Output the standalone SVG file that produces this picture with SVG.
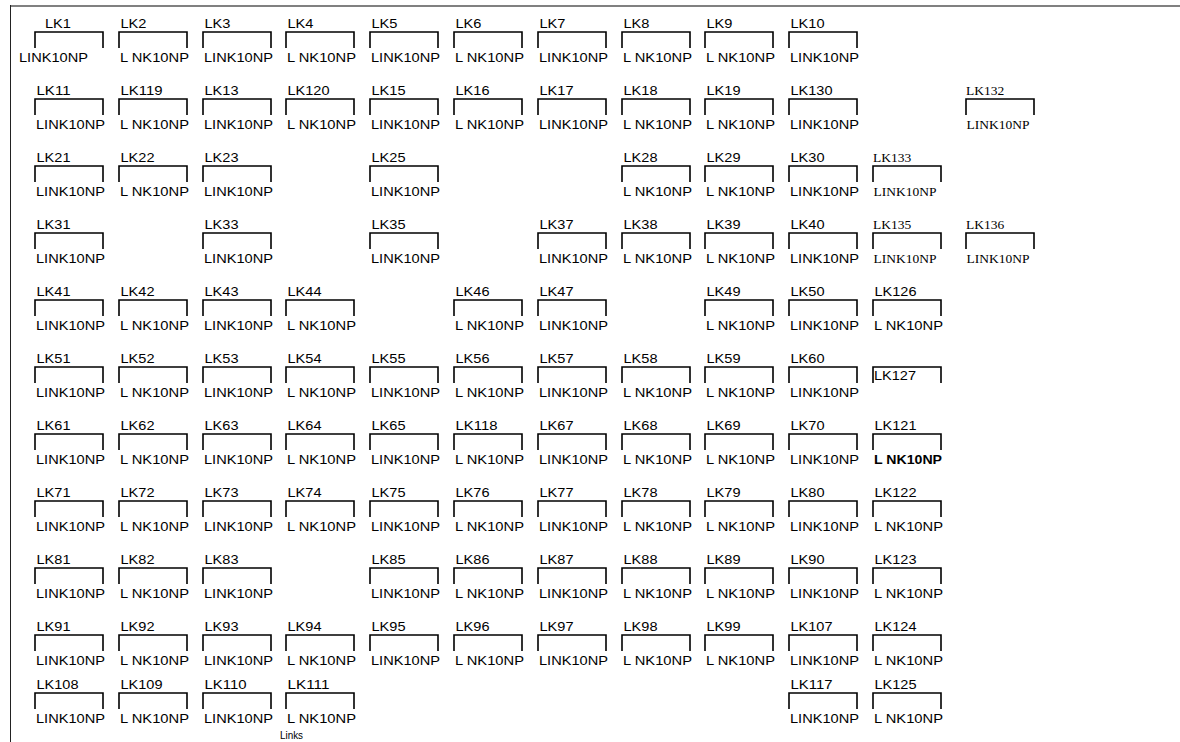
<svg xmlns="http://www.w3.org/2000/svg" xmlns:xlink="http://www.w3.org/1999/xlink" width="1180" height="742" viewBox="0 0 1180 742">
<style>
.b{fill:none;stroke:#000;stroke-width:1.6}
.s{font-family:"Liberation Sans",Arial,sans-serif;font-size:13px;fill:#000}
.r{font-family:"Liberation Serif","Times New Roman",serif;font-size:13.5px;fill:#000}
.bd{font-weight:bold}
</style>
<defs><path id="br" class="b" d="M0,16V0H68V16"/></defs>
<rect width="1180" height="742" fill="#fff"/>
<line x1="10" y1="6" x2="1180" y2="6" stroke="#808080" stroke-width="2"/>
<line x1="10.5" y1="5" x2="10.5" y2="742" stroke="#222" stroke-width="1"/>
<g id="connectors"/>
<!-- row 0 -->
<g id="LK1"><use href="#br" x="35" y="32"/><text class="s" x="45" y="28" textLength="26" lengthAdjust="spacingAndGlyphs">LK1</text><text class="s" x="19" y="62" textLength="69" lengthAdjust="spacingAndGlyphs">LINK10NP</text></g>
<g id="LK2"><use href="#br" x="119" y="32"/><text class="s" x="120.5" y="28" textLength="26" lengthAdjust="spacingAndGlyphs">LK2</text><text class="s" x="120" y="62" textLength="69" lengthAdjust="spacingAndGlyphs">L NK10NP</text></g>
<g id="LK3"><use href="#br" x="203" y="32"/><text class="s" x="204.5" y="28" textLength="26" lengthAdjust="spacingAndGlyphs">LK3</text><text class="s" x="204" y="62" textLength="69" lengthAdjust="spacingAndGlyphs">LINK10NP</text></g>
<g id="LK4"><use href="#br" x="286" y="32"/><text class="s" x="287.5" y="28" textLength="26" lengthAdjust="spacingAndGlyphs">LK4</text><text class="s" x="287" y="62" textLength="69" lengthAdjust="spacingAndGlyphs">L NK10NP</text></g>
<g id="LK5"><use href="#br" x="370" y="32"/><text class="s" x="371.5" y="28" textLength="26" lengthAdjust="spacingAndGlyphs">LK5</text><text class="s" x="371" y="62" textLength="69" lengthAdjust="spacingAndGlyphs">LINK10NP</text></g>
<g id="LK6"><use href="#br" x="454" y="32"/><text class="s" x="455.5" y="28" textLength="26" lengthAdjust="spacingAndGlyphs">LK6</text><text class="s" x="455" y="62" textLength="69" lengthAdjust="spacingAndGlyphs">L NK10NP</text></g>
<g id="LK7"><use href="#br" x="538" y="32"/><text class="s" x="539.5" y="28" textLength="26" lengthAdjust="spacingAndGlyphs">LK7</text><text class="s" x="539" y="62" textLength="69" lengthAdjust="spacingAndGlyphs">LINK10NP</text></g>
<g id="LK8"><use href="#br" x="622" y="32"/><text class="s" x="623.5" y="28" textLength="26" lengthAdjust="spacingAndGlyphs">LK8</text><text class="s" x="623" y="62" textLength="69" lengthAdjust="spacingAndGlyphs">L NK10NP</text></g>
<g id="LK9"><use href="#br" x="705" y="32"/><text class="s" x="706.5" y="28" textLength="26" lengthAdjust="spacingAndGlyphs">LK9</text><text class="s" x="706" y="62" textLength="69" lengthAdjust="spacingAndGlyphs">L NK10NP</text></g>
<g id="LK10"><use href="#br" x="789" y="32"/><text class="s" x="790.5" y="28" textLength="34" lengthAdjust="spacingAndGlyphs">LK10</text><text class="s" x="790" y="62" textLength="69" lengthAdjust="spacingAndGlyphs">LINK10NP</text></g>
<!-- row 1 -->
<g id="LK11"><use href="#br" x="35" y="99"/><text class="s" x="36.5" y="95" textLength="34" lengthAdjust="spacingAndGlyphs">LK11</text><text class="s" x="36" y="129" textLength="69" lengthAdjust="spacingAndGlyphs">LINK10NP</text></g>
<g id="LK119"><use href="#br" x="119" y="99"/><text class="s" x="120.5" y="95" textLength="42" lengthAdjust="spacingAndGlyphs">LK119</text><text class="s" x="120" y="129" textLength="69" lengthAdjust="spacingAndGlyphs">L NK10NP</text></g>
<g id="LK13"><use href="#br" x="203" y="99"/><text class="s" x="204.5" y="95" textLength="34" lengthAdjust="spacingAndGlyphs">LK13</text><text class="s" x="204" y="129" textLength="69" lengthAdjust="spacingAndGlyphs">LINK10NP</text></g>
<g id="LK120"><use href="#br" x="286" y="99"/><text class="s" x="287.5" y="95" textLength="42" lengthAdjust="spacingAndGlyphs">LK120</text><text class="s" x="287" y="129" textLength="69" lengthAdjust="spacingAndGlyphs">L NK10NP</text></g>
<g id="LK15"><use href="#br" x="370" y="99"/><text class="s" x="371.5" y="95" textLength="34" lengthAdjust="spacingAndGlyphs">LK15</text><text class="s" x="371" y="129" textLength="69" lengthAdjust="spacingAndGlyphs">LINK10NP</text></g>
<g id="LK16"><use href="#br" x="454" y="99"/><text class="s" x="455.5" y="95" textLength="34" lengthAdjust="spacingAndGlyphs">LK16</text><text class="s" x="455" y="129" textLength="69" lengthAdjust="spacingAndGlyphs">L NK10NP</text></g>
<g id="LK17"><use href="#br" x="538" y="99"/><text class="s" x="539.5" y="95" textLength="34" lengthAdjust="spacingAndGlyphs">LK17</text><text class="s" x="539" y="129" textLength="69" lengthAdjust="spacingAndGlyphs">LINK10NP</text></g>
<g id="LK18"><use href="#br" x="622" y="99"/><text class="s" x="623.5" y="95" textLength="34" lengthAdjust="spacingAndGlyphs">LK18</text><text class="s" x="623" y="129" textLength="69" lengthAdjust="spacingAndGlyphs">L NK10NP</text></g>
<g id="LK19"><use href="#br" x="705" y="99"/><text class="s" x="706.5" y="95" textLength="34" lengthAdjust="spacingAndGlyphs">LK19</text><text class="s" x="706" y="129" textLength="69" lengthAdjust="spacingAndGlyphs">L NK10NP</text></g>
<g id="LK130"><use href="#br" x="789" y="99"/><text class="s" x="790.5" y="95" textLength="42" lengthAdjust="spacingAndGlyphs">LK130</text><text class="s" x="790" y="129" textLength="69" lengthAdjust="spacingAndGlyphs">LINK10NP</text></g>
<g id="LK132"><use href="#br" x="966" y="99"/><text class="r" x="966" y="95">LK132</text><text class="r" x="966.5" y="129">LINK10NP</text></g>
<!-- row 2 -->
<g id="LK21"><use href="#br" x="35" y="166"/><text class="s" x="36.5" y="162" textLength="34" lengthAdjust="spacingAndGlyphs">LK21</text><text class="s" x="36" y="196" textLength="69" lengthAdjust="spacingAndGlyphs">LINK10NP</text></g>
<g id="LK22"><use href="#br" x="119" y="166"/><text class="s" x="120.5" y="162" textLength="34" lengthAdjust="spacingAndGlyphs">LK22</text><text class="s" x="120" y="196" textLength="69" lengthAdjust="spacingAndGlyphs">L NK10NP</text></g>
<g id="LK23"><use href="#br" x="203" y="166"/><text class="s" x="204.5" y="162" textLength="34" lengthAdjust="spacingAndGlyphs">LK23</text><text class="s" x="204" y="196" textLength="69" lengthAdjust="spacingAndGlyphs">LINK10NP</text></g>
<g id="LK25"><use href="#br" x="370" y="166"/><text class="s" x="371.5" y="162" textLength="34" lengthAdjust="spacingAndGlyphs">LK25</text><text class="s" x="371" y="196" textLength="69" lengthAdjust="spacingAndGlyphs">LINK10NP</text></g>
<g id="LK28"><use href="#br" x="622" y="166"/><text class="s" x="623.5" y="162" textLength="34" lengthAdjust="spacingAndGlyphs">LK28</text><text class="s" x="623" y="196" textLength="69" lengthAdjust="spacingAndGlyphs">L NK10NP</text></g>
<g id="LK29"><use href="#br" x="705" y="166"/><text class="s" x="706.5" y="162" textLength="34" lengthAdjust="spacingAndGlyphs">LK29</text><text class="s" x="706" y="196" textLength="69" lengthAdjust="spacingAndGlyphs">L NK10NP</text></g>
<g id="LK30"><use href="#br" x="789" y="166"/><text class="s" x="790.5" y="162" textLength="34" lengthAdjust="spacingAndGlyphs">LK30</text><text class="s" x="790" y="196" textLength="69" lengthAdjust="spacingAndGlyphs">LINK10NP</text></g>
<g id="LK133"><use href="#br" x="873" y="166"/><text class="r" x="873" y="162">LK133</text><text class="r" x="873.5" y="196">LINK10NP</text></g>
<!-- row 3 -->
<g id="LK31"><use href="#br" x="35" y="233"/><text class="s" x="36.5" y="229" textLength="34" lengthAdjust="spacingAndGlyphs">LK31</text><text class="s" x="36" y="263" textLength="69" lengthAdjust="spacingAndGlyphs">LINK10NP</text></g>
<g id="LK33"><use href="#br" x="203" y="233"/><text class="s" x="204.5" y="229" textLength="34" lengthAdjust="spacingAndGlyphs">LK33</text><text class="s" x="204" y="263" textLength="69" lengthAdjust="spacingAndGlyphs">LINK10NP</text></g>
<g id="LK35"><use href="#br" x="370" y="233"/><text class="s" x="371.5" y="229" textLength="34" lengthAdjust="spacingAndGlyphs">LK35</text><text class="s" x="371" y="263" textLength="69" lengthAdjust="spacingAndGlyphs">LINK10NP</text></g>
<g id="LK37"><use href="#br" x="538" y="233"/><text class="s" x="539.5" y="229" textLength="34" lengthAdjust="spacingAndGlyphs">LK37</text><text class="s" x="539" y="263" textLength="69" lengthAdjust="spacingAndGlyphs">LINK10NP</text></g>
<g id="LK38"><use href="#br" x="622" y="233"/><text class="s" x="623.5" y="229" textLength="34" lengthAdjust="spacingAndGlyphs">LK38</text><text class="s" x="623" y="263" textLength="69" lengthAdjust="spacingAndGlyphs">L NK10NP</text></g>
<g id="LK39"><use href="#br" x="705" y="233"/><text class="s" x="706.5" y="229" textLength="34" lengthAdjust="spacingAndGlyphs">LK39</text><text class="s" x="706" y="263" textLength="69" lengthAdjust="spacingAndGlyphs">L NK10NP</text></g>
<g id="LK40"><use href="#br" x="789" y="233"/><text class="s" x="790.5" y="229" textLength="34" lengthAdjust="spacingAndGlyphs">LK40</text><text class="s" x="790" y="263" textLength="69" lengthAdjust="spacingAndGlyphs">LINK10NP</text></g>
<g id="LK135"><use href="#br" x="873" y="233"/><text class="r" x="873" y="229">LK135</text><text class="r" x="873.5" y="263">LINK10NP</text></g>
<g id="LK136"><use href="#br" x="966" y="233"/><text class="r" x="966" y="229">LK136</text><text class="r" x="966.5" y="263">LINK10NP</text></g>
<!-- row 4 -->
<g id="LK41"><use href="#br" x="35" y="300"/><text class="s" x="36.5" y="296" textLength="34" lengthAdjust="spacingAndGlyphs">LK41</text><text class="s" x="36" y="330" textLength="69" lengthAdjust="spacingAndGlyphs">LINK10NP</text></g>
<g id="LK42"><use href="#br" x="119" y="300"/><text class="s" x="120.5" y="296" textLength="34" lengthAdjust="spacingAndGlyphs">LK42</text><text class="s" x="120" y="330" textLength="69" lengthAdjust="spacingAndGlyphs">L NK10NP</text></g>
<g id="LK43"><use href="#br" x="203" y="300"/><text class="s" x="204.5" y="296" textLength="34" lengthAdjust="spacingAndGlyphs">LK43</text><text class="s" x="204" y="330" textLength="69" lengthAdjust="spacingAndGlyphs">LINK10NP</text></g>
<g id="LK44"><use href="#br" x="286" y="300"/><text class="s" x="287.5" y="296" textLength="34" lengthAdjust="spacingAndGlyphs">LK44</text><text class="s" x="287" y="330" textLength="69" lengthAdjust="spacingAndGlyphs">L NK10NP</text></g>
<g id="LK46"><use href="#br" x="454" y="300"/><text class="s" x="455.5" y="296" textLength="34" lengthAdjust="spacingAndGlyphs">LK46</text><text class="s" x="455" y="330" textLength="69" lengthAdjust="spacingAndGlyphs">L NK10NP</text></g>
<g id="LK47"><use href="#br" x="538" y="300"/><text class="s" x="539.5" y="296" textLength="34" lengthAdjust="spacingAndGlyphs">LK47</text><text class="s" x="539" y="330" textLength="69" lengthAdjust="spacingAndGlyphs">LINK10NP</text></g>
<g id="LK49"><use href="#br" x="705" y="300"/><text class="s" x="706.5" y="296" textLength="34" lengthAdjust="spacingAndGlyphs">LK49</text><text class="s" x="706" y="330" textLength="69" lengthAdjust="spacingAndGlyphs">L NK10NP</text></g>
<g id="LK50"><use href="#br" x="789" y="300"/><text class="s" x="790.5" y="296" textLength="34" lengthAdjust="spacingAndGlyphs">LK50</text><text class="s" x="790" y="330" textLength="69" lengthAdjust="spacingAndGlyphs">LINK10NP</text></g>
<g id="LK126"><use href="#br" x="873" y="300"/><text class="s" x="874.5" y="296" textLength="42" lengthAdjust="spacingAndGlyphs">LK126</text><text class="s" x="874" y="330" textLength="69" lengthAdjust="spacingAndGlyphs">L NK10NP</text></g>
<!-- row 5 -->
<g id="LK51"><use href="#br" x="35" y="367"/><text class="s" x="36.5" y="363" textLength="34" lengthAdjust="spacingAndGlyphs">LK51</text><text class="s" x="36" y="397" textLength="69" lengthAdjust="spacingAndGlyphs">LINK10NP</text></g>
<g id="LK52"><use href="#br" x="119" y="367"/><text class="s" x="120.5" y="363" textLength="34" lengthAdjust="spacingAndGlyphs">LK52</text><text class="s" x="120" y="397" textLength="69" lengthAdjust="spacingAndGlyphs">L NK10NP</text></g>
<g id="LK53"><use href="#br" x="203" y="367"/><text class="s" x="204.5" y="363" textLength="34" lengthAdjust="spacingAndGlyphs">LK53</text><text class="s" x="204" y="397" textLength="69" lengthAdjust="spacingAndGlyphs">LINK10NP</text></g>
<g id="LK54"><use href="#br" x="286" y="367"/><text class="s" x="287.5" y="363" textLength="34" lengthAdjust="spacingAndGlyphs">LK54</text><text class="s" x="287" y="397" textLength="69" lengthAdjust="spacingAndGlyphs">L NK10NP</text></g>
<g id="LK55"><use href="#br" x="370" y="367"/><text class="s" x="371.5" y="363" textLength="34" lengthAdjust="spacingAndGlyphs">LK55</text><text class="s" x="371" y="397" textLength="69" lengthAdjust="spacingAndGlyphs">LINK10NP</text></g>
<g id="LK56"><use href="#br" x="454" y="367"/><text class="s" x="455.5" y="363" textLength="34" lengthAdjust="spacingAndGlyphs">LK56</text><text class="s" x="455" y="397" textLength="69" lengthAdjust="spacingAndGlyphs">L NK10NP</text></g>
<g id="LK57"><use href="#br" x="538" y="367"/><text class="s" x="539.5" y="363" textLength="34" lengthAdjust="spacingAndGlyphs">LK57</text><text class="s" x="539" y="397" textLength="69" lengthAdjust="spacingAndGlyphs">LINK10NP</text></g>
<g id="LK58"><use href="#br" x="622" y="367"/><text class="s" x="623.5" y="363" textLength="34" lengthAdjust="spacingAndGlyphs">LK58</text><text class="s" x="623" y="397" textLength="69" lengthAdjust="spacingAndGlyphs">L NK10NP</text></g>
<g id="LK59"><use href="#br" x="705" y="367"/><text class="s" x="706.5" y="363" textLength="34" lengthAdjust="spacingAndGlyphs">LK59</text><text class="s" x="706" y="397" textLength="69" lengthAdjust="spacingAndGlyphs">L NK10NP</text></g>
<g id="LK60"><use href="#br" x="789" y="367"/><text class="s" x="790.5" y="363" textLength="34" lengthAdjust="spacingAndGlyphs">LK60</text><text class="s" x="790" y="397" textLength="69" lengthAdjust="spacingAndGlyphs">LINK10NP</text></g>
<g id="LK127"><use href="#br" x="873" y="367"/><text class="s" x="874" y="380" textLength="42" lengthAdjust="spacingAndGlyphs">LK127</text></g>
<!-- row 6 -->
<g id="LK61"><use href="#br" x="35" y="434"/><text class="s" x="36.5" y="430" textLength="34" lengthAdjust="spacingAndGlyphs">LK61</text><text class="s" x="36" y="464" textLength="69" lengthAdjust="spacingAndGlyphs">LINK10NP</text></g>
<g id="LK62"><use href="#br" x="119" y="434"/><text class="s" x="120.5" y="430" textLength="34" lengthAdjust="spacingAndGlyphs">LK62</text><text class="s" x="120" y="464" textLength="69" lengthAdjust="spacingAndGlyphs">L NK10NP</text></g>
<g id="LK63"><use href="#br" x="203" y="434"/><text class="s" x="204.5" y="430" textLength="34" lengthAdjust="spacingAndGlyphs">LK63</text><text class="s" x="204" y="464" textLength="69" lengthAdjust="spacingAndGlyphs">LINK10NP</text></g>
<g id="LK64"><use href="#br" x="286" y="434"/><text class="s" x="287.5" y="430" textLength="34" lengthAdjust="spacingAndGlyphs">LK64</text><text class="s" x="287" y="464" textLength="69" lengthAdjust="spacingAndGlyphs">L NK10NP</text></g>
<g id="LK65"><use href="#br" x="370" y="434"/><text class="s" x="371.5" y="430" textLength="34" lengthAdjust="spacingAndGlyphs">LK65</text><text class="s" x="371" y="464" textLength="69" lengthAdjust="spacingAndGlyphs">LINK10NP</text></g>
<g id="LK118"><use href="#br" x="454" y="434"/><text class="s" x="455.5" y="430" textLength="42" lengthAdjust="spacingAndGlyphs">LK118</text><text class="s" x="455" y="464" textLength="69" lengthAdjust="spacingAndGlyphs">L NK10NP</text></g>
<g id="LK67"><use href="#br" x="538" y="434"/><text class="s" x="539.5" y="430" textLength="34" lengthAdjust="spacingAndGlyphs">LK67</text><text class="s" x="539" y="464" textLength="69" lengthAdjust="spacingAndGlyphs">LINK10NP</text></g>
<g id="LK68"><use href="#br" x="622" y="434"/><text class="s" x="623.5" y="430" textLength="34" lengthAdjust="spacingAndGlyphs">LK68</text><text class="s" x="623" y="464" textLength="69" lengthAdjust="spacingAndGlyphs">L NK10NP</text></g>
<g id="LK69"><use href="#br" x="705" y="434"/><text class="s" x="706.5" y="430" textLength="34" lengthAdjust="spacingAndGlyphs">LK69</text><text class="s" x="706" y="464" textLength="69" lengthAdjust="spacingAndGlyphs">L NK10NP</text></g>
<g id="LK70"><use href="#br" x="789" y="434"/><text class="s" x="790.5" y="430" textLength="34" lengthAdjust="spacingAndGlyphs">LK70</text><text class="s" x="790" y="464" textLength="69" lengthAdjust="spacingAndGlyphs">LINK10NP</text></g>
<g id="LK121"><use href="#br" x="873" y="434"/><text class="s" x="874.5" y="430" textLength="42" lengthAdjust="spacingAndGlyphs">LK121</text><text class="s bd" x="874" y="464" textLength="68" lengthAdjust="spacingAndGlyphs">L NK10NP</text></g>
<!-- row 7 -->
<g id="LK71"><use href="#br" x="35" y="501"/><text class="s" x="36.5" y="497" textLength="34" lengthAdjust="spacingAndGlyphs">LK71</text><text class="s" x="36" y="531" textLength="69" lengthAdjust="spacingAndGlyphs">LINK10NP</text></g>
<g id="LK72"><use href="#br" x="119" y="501"/><text class="s" x="120.5" y="497" textLength="34" lengthAdjust="spacingAndGlyphs">LK72</text><text class="s" x="120" y="531" textLength="69" lengthAdjust="spacingAndGlyphs">L NK10NP</text></g>
<g id="LK73"><use href="#br" x="203" y="501"/><text class="s" x="204.5" y="497" textLength="34" lengthAdjust="spacingAndGlyphs">LK73</text><text class="s" x="204" y="531" textLength="69" lengthAdjust="spacingAndGlyphs">LINK10NP</text></g>
<g id="LK74"><use href="#br" x="286" y="501"/><text class="s" x="287.5" y="497" textLength="34" lengthAdjust="spacingAndGlyphs">LK74</text><text class="s" x="287" y="531" textLength="69" lengthAdjust="spacingAndGlyphs">L NK10NP</text></g>
<g id="LK75"><use href="#br" x="370" y="501"/><text class="s" x="371.5" y="497" textLength="34" lengthAdjust="spacingAndGlyphs">LK75</text><text class="s" x="371" y="531" textLength="69" lengthAdjust="spacingAndGlyphs">LINK10NP</text></g>
<g id="LK76"><use href="#br" x="454" y="501"/><text class="s" x="455.5" y="497" textLength="34" lengthAdjust="spacingAndGlyphs">LK76</text><text class="s" x="455" y="531" textLength="69" lengthAdjust="spacingAndGlyphs">L NK10NP</text></g>
<g id="LK77"><use href="#br" x="538" y="501"/><text class="s" x="539.5" y="497" textLength="34" lengthAdjust="spacingAndGlyphs">LK77</text><text class="s" x="539" y="531" textLength="69" lengthAdjust="spacingAndGlyphs">LINK10NP</text></g>
<g id="LK78"><use href="#br" x="622" y="501"/><text class="s" x="623.5" y="497" textLength="34" lengthAdjust="spacingAndGlyphs">LK78</text><text class="s" x="623" y="531" textLength="69" lengthAdjust="spacingAndGlyphs">L NK10NP</text></g>
<g id="LK79"><use href="#br" x="705" y="501"/><text class="s" x="706.5" y="497" textLength="34" lengthAdjust="spacingAndGlyphs">LK79</text><text class="s" x="706" y="531" textLength="69" lengthAdjust="spacingAndGlyphs">L NK10NP</text></g>
<g id="LK80"><use href="#br" x="789" y="501"/><text class="s" x="790.5" y="497" textLength="34" lengthAdjust="spacingAndGlyphs">LK80</text><text class="s" x="790" y="531" textLength="69" lengthAdjust="spacingAndGlyphs">LINK10NP</text></g>
<g id="LK122"><use href="#br" x="873" y="501"/><text class="s" x="874.5" y="497" textLength="42" lengthAdjust="spacingAndGlyphs">LK122</text><text class="s" x="874" y="531" textLength="69" lengthAdjust="spacingAndGlyphs">L NK10NP</text></g>
<!-- row 8 -->
<g id="LK81"><use href="#br" x="35" y="568"/><text class="s" x="36.5" y="564" textLength="34" lengthAdjust="spacingAndGlyphs">LK81</text><text class="s" x="36" y="598" textLength="69" lengthAdjust="spacingAndGlyphs">LINK10NP</text></g>
<g id="LK82"><use href="#br" x="119" y="568"/><text class="s" x="120.5" y="564" textLength="34" lengthAdjust="spacingAndGlyphs">LK82</text><text class="s" x="120" y="598" textLength="69" lengthAdjust="spacingAndGlyphs">L NK10NP</text></g>
<g id="LK83"><use href="#br" x="203" y="568"/><text class="s" x="204.5" y="564" textLength="34" lengthAdjust="spacingAndGlyphs">LK83</text><text class="s" x="204" y="598" textLength="69" lengthAdjust="spacingAndGlyphs">LINK10NP</text></g>
<g id="LK85"><use href="#br" x="370" y="568"/><text class="s" x="371.5" y="564" textLength="34" lengthAdjust="spacingAndGlyphs">LK85</text><text class="s" x="371" y="598" textLength="69" lengthAdjust="spacingAndGlyphs">LINK10NP</text></g>
<g id="LK86"><use href="#br" x="454" y="568"/><text class="s" x="455.5" y="564" textLength="34" lengthAdjust="spacingAndGlyphs">LK86</text><text class="s" x="455" y="598" textLength="69" lengthAdjust="spacingAndGlyphs">L NK10NP</text></g>
<g id="LK87"><use href="#br" x="538" y="568"/><text class="s" x="539.5" y="564" textLength="34" lengthAdjust="spacingAndGlyphs">LK87</text><text class="s" x="539" y="598" textLength="69" lengthAdjust="spacingAndGlyphs">LINK10NP</text></g>
<g id="LK88"><use href="#br" x="622" y="568"/><text class="s" x="623.5" y="564" textLength="34" lengthAdjust="spacingAndGlyphs">LK88</text><text class="s" x="623" y="598" textLength="69" lengthAdjust="spacingAndGlyphs">L NK10NP</text></g>
<g id="LK89"><use href="#br" x="705" y="568"/><text class="s" x="706.5" y="564" textLength="34" lengthAdjust="spacingAndGlyphs">LK89</text><text class="s" x="706" y="598" textLength="69" lengthAdjust="spacingAndGlyphs">L NK10NP</text></g>
<g id="LK90"><use href="#br" x="789" y="568"/><text class="s" x="790.5" y="564" textLength="34" lengthAdjust="spacingAndGlyphs">LK90</text><text class="s" x="790" y="598" textLength="69" lengthAdjust="spacingAndGlyphs">LINK10NP</text></g>
<g id="LK123"><use href="#br" x="873" y="568"/><text class="s" x="874.5" y="564" textLength="42" lengthAdjust="spacingAndGlyphs">LK123</text><text class="s" x="874" y="598" textLength="69" lengthAdjust="spacingAndGlyphs">L NK10NP</text></g>
<!-- row 9 -->
<g id="LK91"><use href="#br" x="35" y="635"/><text class="s" x="36.5" y="631" textLength="34" lengthAdjust="spacingAndGlyphs">LK91</text><text class="s" x="36" y="665" textLength="69" lengthAdjust="spacingAndGlyphs">LINK10NP</text></g>
<g id="LK92"><use href="#br" x="119" y="635"/><text class="s" x="120.5" y="631" textLength="34" lengthAdjust="spacingAndGlyphs">LK92</text><text class="s" x="120" y="665" textLength="69" lengthAdjust="spacingAndGlyphs">L NK10NP</text></g>
<g id="LK93"><use href="#br" x="203" y="635"/><text class="s" x="204.5" y="631" textLength="34" lengthAdjust="spacingAndGlyphs">LK93</text><text class="s" x="204" y="665" textLength="69" lengthAdjust="spacingAndGlyphs">LINK10NP</text></g>
<g id="LK94"><use href="#br" x="286" y="635"/><text class="s" x="287.5" y="631" textLength="34" lengthAdjust="spacingAndGlyphs">LK94</text><text class="s" x="287" y="665" textLength="69" lengthAdjust="spacingAndGlyphs">L NK10NP</text></g>
<g id="LK95"><use href="#br" x="370" y="635"/><text class="s" x="371.5" y="631" textLength="34" lengthAdjust="spacingAndGlyphs">LK95</text><text class="s" x="371" y="665" textLength="69" lengthAdjust="spacingAndGlyphs">LINK10NP</text></g>
<g id="LK96"><use href="#br" x="454" y="635"/><text class="s" x="455.5" y="631" textLength="34" lengthAdjust="spacingAndGlyphs">LK96</text><text class="s" x="455" y="665" textLength="69" lengthAdjust="spacingAndGlyphs">L NK10NP</text></g>
<g id="LK97"><use href="#br" x="538" y="635"/><text class="s" x="539.5" y="631" textLength="34" lengthAdjust="spacingAndGlyphs">LK97</text><text class="s" x="539" y="665" textLength="69" lengthAdjust="spacingAndGlyphs">LINK10NP</text></g>
<g id="LK98"><use href="#br" x="622" y="635"/><text class="s" x="623.5" y="631" textLength="34" lengthAdjust="spacingAndGlyphs">LK98</text><text class="s" x="623" y="665" textLength="69" lengthAdjust="spacingAndGlyphs">L NK10NP</text></g>
<g id="LK99"><use href="#br" x="705" y="635"/><text class="s" x="706.5" y="631" textLength="34" lengthAdjust="spacingAndGlyphs">LK99</text><text class="s" x="706" y="665" textLength="69" lengthAdjust="spacingAndGlyphs">L NK10NP</text></g>
<g id="LK107"><use href="#br" x="789" y="635"/><text class="s" x="790.5" y="631" textLength="42" lengthAdjust="spacingAndGlyphs">LK107</text><text class="s" x="790" y="665" textLength="69" lengthAdjust="spacingAndGlyphs">LINK10NP</text></g>
<g id="LK124"><use href="#br" x="873" y="635"/><text class="s" x="874.5" y="631" textLength="42" lengthAdjust="spacingAndGlyphs">LK124</text><text class="s" x="874" y="665" textLength="69" lengthAdjust="spacingAndGlyphs">L NK10NP</text></g>
<!-- row 10 -->
<g id="LK108"><use href="#br" x="35" y="693"/><text class="s" x="36.5" y="689" textLength="42" lengthAdjust="spacingAndGlyphs">LK108</text><text class="s" x="36" y="723" textLength="69" lengthAdjust="spacingAndGlyphs">LINK10NP</text></g>
<g id="LK109"><use href="#br" x="119" y="693"/><text class="s" x="120.5" y="689" textLength="42" lengthAdjust="spacingAndGlyphs">LK109</text><text class="s" x="120" y="723" textLength="69" lengthAdjust="spacingAndGlyphs">L NK10NP</text></g>
<g id="LK110"><use href="#br" x="203" y="693"/><text class="s" x="204.5" y="689" textLength="42" lengthAdjust="spacingAndGlyphs">LK110</text><text class="s" x="204" y="723" textLength="69" lengthAdjust="spacingAndGlyphs">LINK10NP</text></g>
<g id="LK111"><use href="#br" x="286" y="693"/><text class="s" x="287.5" y="689" textLength="42" lengthAdjust="spacingAndGlyphs">LK111</text><text class="s" x="287" y="723" textLength="69" lengthAdjust="spacingAndGlyphs">L NK10NP</text></g>
<g id="LK117"><use href="#br" x="789" y="693"/><text class="s" x="790.5" y="689" textLength="42" lengthAdjust="spacingAndGlyphs">LK117</text><text class="s" x="790" y="723" textLength="69" lengthAdjust="spacingAndGlyphs">LINK10NP</text></g>
<g id="LK125"><use href="#br" x="873" y="693"/><text class="s" x="874.5" y="689" textLength="42" lengthAdjust="spacingAndGlyphs">LK125</text><text class="s" x="874" y="723" textLength="69" lengthAdjust="spacingAndGlyphs">L NK10NP</text></g>
<g id="title"><text class="s" x="280" y="739" style="font-size:11.5px" textLength="23" lengthAdjust="spacingAndGlyphs">Links</text></g>
</svg>
